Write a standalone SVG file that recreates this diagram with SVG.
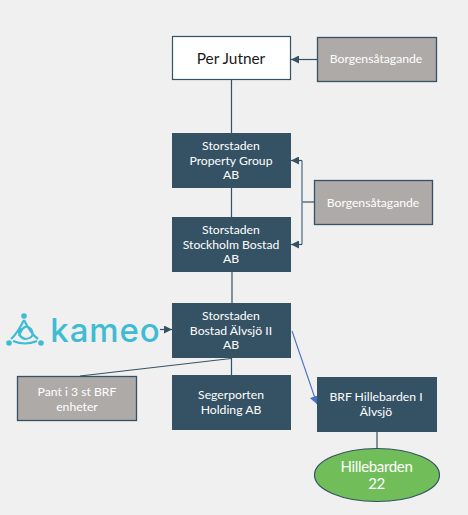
<svg xmlns="http://www.w3.org/2000/svg" width="468" height="515" viewBox="0 0 468 515">
<style>
text{font-family:"Lato","Liberation Sans",sans-serif;text-anchor:middle}
.d{fill:#355264}
.g{fill:#aeaaa8;stroke:#355264;stroke-width:1.3}
.t{fill:#fff;font-size:12.200px}
.tb{fill:#fff;font-size:12.200px}
.c{fill:none;stroke:#355264;stroke-width:1.2}
.logo{fill:none;stroke:#3fbcd3;stroke-width:2.200}
.dot{fill:#3fbcd3}
.e{fill:#fff;font-size:15px;letter-spacing:-.35px}
</style>
<defs>
<marker id="a" markerUnits="userSpaceOnUse" markerWidth="9" markerHeight="8" refX="8" refY="4" orient="auto"><path d="M0 0L8 4L0 8Z" fill="#355264"/></marker>
<marker id="b" markerUnits="userSpaceOnUse" markerWidth="9" markerHeight="10" refX="8" refY="5" orient="auto"><path d="M0 0L8 5L0 10Z" fill="#4472c4"/></marker>
</defs>
<rect width="468" height="515" fill="#f0f0f0"/>
<g id="connectors">
<path class="c" d="M231.500 79V133M231.500 188V217M232 272V303M231.500 358V375M377 431V449"/>
<path class="c" d="M317 59.500H291" marker-end="url(#a)"/>
<path class="c" d="M314 202H302"/>
<path class="c" style="stroke:#6b8496;stroke-width:1.500" d="M302 160.500V244.500"/>
<path class="c" d="M302 160.500H291" marker-end="url(#a)"/>
<path class="c" d="M302 244.500H291" marker-end="url(#a)"/>
<path class="c" d="M160 329.500H172" marker-end="url(#a)"/>
<path class="c" d="M231 358.500L80 376"/>
<path fill="none" stroke="#4472c4" stroke-width="1.100" d="M292 331L317 404" marker-end="url(#b)"/>
</g>
<g id="per-jutner"><rect x="172.500" y="36.500" width="118" height="43" fill="#fff" stroke="#355264" stroke-width="1.200"/><text x="231" y="64" fill="#1a1a1a" style="font-size:15.400px">Per Jutner</text></g>
<g id="borgen-1"><rect class="g" x="317.500" y="37.500" width="119" height="44"/><text class="t" x="376" y="63">Borgensåtagande</text></g>
<g id="property-group"><rect class="d" x="172" y="133" width="119" height="55"/><text class="tb" x="231" y="150">Storstaden</text><text class="tb" x="231" y="165">Property Group</text><text class="tb" x="231" y="179">AB</text></g>
<g id="borgen-2"><rect class="g" x="314.500" y="180.500" width="118" height="44"/><text class="t" x="373" y="207">Borgensåtagande</text></g>
<g id="stockholm-bostad"><rect class="d" x="172" y="217" width="119" height="55"/><text class="tb" x="231" y="234">Storstaden</text><text class="tb" x="231" y="249">Stockholm Bostad</text><text class="tb" x="231" y="263">AB</text></g>
<g id="kameo">
<g class="logo"><path d="M24 320Q17 334 11 339M24 320Q31 334 38 339M13 341Q25 346 37 341M19 336Q24 322 31 329Q36 338 25 339Q16 336 21 328"/></g>
<circle class="dot" cx="24" cy="316" r="2.800"/><circle class="dot" cx="9" cy="343" r="2.800"/><circle class="dot" cx="41" cy="343" r="2.800"/>
<text x="105.500" y="342" fill="#3fbcd3" style="font-family:Inter,'Liberation Sans',sans-serif;font-size:33px;font-weight:500;letter-spacing:.9px">kameo</text></g>
<g id="alvsjo-ii"><rect class="d" x="172" y="303" width="119" height="55"/><text class="tb" x="231" y="320">Storstaden</text><text class="tb" x="231" y="335">Bostad Älvsjö II</text><text class="tb" x="231" y="349">AB</text></g>
<g id="pant"><rect class="g" x="17.500" y="376.500" width="119" height="44"/><text class="t" x="77" y="396">Pant i 3 st BRF</text><text class="t" x="77" y="411">enheter</text></g>
<g id="segerporten"><rect class="d" x="172" y="375" width="119" height="55"/><text class="tb" x="231" y="399">Segerporten</text><text class="tb" x="231" y="414">Holding AB</text></g>
<g id="hillebarden-i"><rect class="d" x="317" y="377" width="120" height="55"/><text class="tb" x="376" y="401">BRF Hillebarden I</text><text class="tb" x="376" y="416">Älvsjö</text></g>
<g id="hillebarden-22"><ellipse cx="377" cy="475" rx="62.500" ry="26.500" fill="#70bd5a" stroke="#355264" stroke-width="1.200"/><text class="e" x="376.500" y="472">Hillebarden</text><text class="e" x="376.500" y="489">22</text></g>
</svg>
